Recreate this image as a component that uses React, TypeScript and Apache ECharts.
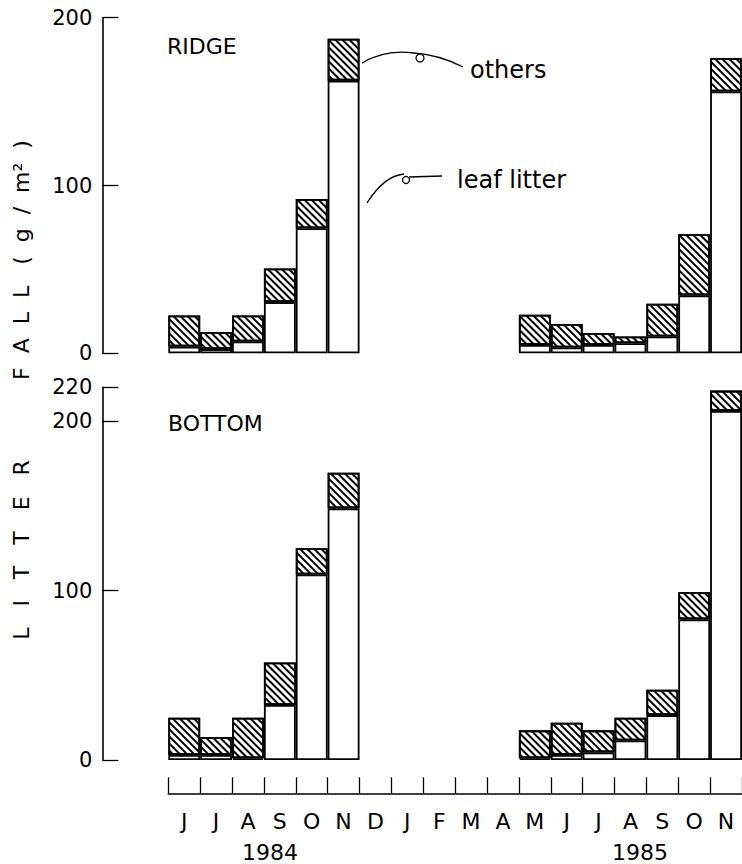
import React, { useEffect, useRef } from "react";
import * as echarts from "echarts";

const months = ["J", "J", "A", "S", "O", "N", "D", "J", "F", "M", "A", "M", "J", "J", "A", "S", "O", "N"];

// RIDGE panel (g/m2)
const ridgeLeaf = [4, 2.5, 7, 30.5, 74.5, 162.5, null, null, null, null, null, 5, 3.5, 5, 6, 10, 34.5, 156];
const ridgeOthers = [18.5, 10, 15.5, 20, 17.5, 25, null, null, null, null, null, 18, 14, 7, 4, 19.5, 36.5, 20];

// BOTTOM panel (g/m2)
const bottomLeaf = [3, 3, 1, 32.5, 109.5, 148.5, null, null, null, null, null, 1, 3, 4.5, 11.5, 26.5, 83, 206];
const bottomOthers = [22, 10.5, 24, 25, 15.5, 21, null, null, null, null, null, 16.5, 19, 13, 13.5, 15, 16, 12];

const ridgeTicks = [0, 100, 200];
const bottomTicks = [0, 100, 200, 220];

const FONT = '"DejaVu Sans", sans-serif';

export default function App() {
  const ref = useRef<HTMLDivElement>(null);

  useEffect(() => {
    if (!ref.current) return;
    const chart = echarts.init(ref.current, null, { renderer: "svg" });

    const gridLeft = 168.3;
    const gridWidth = 32.22 * 18;

    const hatch = {
      symbol: "rect",
      symbolSize: 1,
      color: "#000",
      dashArrayX: [1, 0],
      dashArrayY: [1.6, 2.2],
      rotation: Math.PI / 4,
    };

    const barBase = (xi: number, yi: number, stack: string) => ({
      type: "bar",
      xAxisIndex: xi,
      yAxisIndex: yi,
      stack,
      barWidth: "100%",
      silent: true,
    });

    const yAxisCommon = (min: number, max: number, ticks: number[], grid: number) => ({
      type: "value",
      gridIndex: grid,
      min,
      max,
      offset: 66,
      position: "left",
      splitLine: { show: false },
      axisLine: { show: true, lineStyle: { color: "#000", width: 1.6 } },
      axisTick: {
        show: true,
        inside: true,
        length: 16,
        lineStyle: { color: "#000", width: 1.3 },
        customValues: ticks,
      },
      axisLabel: {
        show: true,
        color: "#000",
        fontSize: 21,
        fontFamily: FONT,
        margin: 10,
        customValues: ticks,
      },
    });

    const option: any = {
      animation: false,
      backgroundColor: "#fff",
      grid: [
        { left: gridLeft, top: 17.7, width: gridWidth, height: 335.6 },
        { left: gridLeft, top: 387.2, width: gridWidth, height: 372.8 },
        { left: gridLeft, top: 700, width: gridWidth, height: 93.3 },
      ],
      xAxis: [
        { type: "category", gridIndex: 0, data: months, show: false },
        { type: "category", gridIndex: 1, data: months, show: false },
        {
          type: "category",
          gridIndex: 2,
          data: months,
          position: "bottom",
          axisLine: { show: true, lineStyle: { color: "#000", width: 1.6 } },
          axisTick: { show: true, inside: true, length: 16, lineStyle: { color: "#000", width: 1.3 } },
          axisLabel: { color: "#000", fontSize: 22, fontFamily: FONT, margin: 17, interval: 0 },
        },
      ],
      yAxis: [
        yAxisCommon(0, 200, ridgeTicks, 0),
        yAxisCommon(0, 220, bottomTicks, 1),
        { type: "value", gridIndex: 2, show: false, min: 0, max: 1 },
      ],
      series: [
        {
          ...barBase(0, 0, "ridge"),
          name: "leaf litter",
          data: ridgeLeaf,
          itemStyle: { color: "#fff", borderColor: "#000", borderWidth: 1.8 },
        },
        {
          ...barBase(0, 0, "ridge"),
          name: "others",
          data: ridgeOthers,
          itemStyle: { color: "#fff", borderColor: "#000", borderWidth: 1.8, decal: hatch },
        },
        {
          ...barBase(1, 1, "bottom"),
          name: "leaf litter",
          data: bottomLeaf,
          itemStyle: { color: "#fff", borderColor: "#000", borderWidth: 1.8 },
        },
        {
          ...barBase(1, 1, "bottom"),
          name: "others",
          data: bottomOthers,
          itemStyle: { color: "#fff", borderColor: "#000", borderWidth: 1.8, decal: hatch },
        },
      ],
      graphic: [
        { type: "text", x: 167, y: 46, style: { text: "RIDGE", fontSize: 22, fontFamily: FONT, fill: "#000", verticalAlign: "middle" } },
        { type: "text", x: 168, y: 423, style: { text: "BOTTOM", fontSize: 22, fontFamily: FONT, fill: "#000", verticalAlign: "middle" } },
        { type: "text", x: 470, y: 70, style: { text: "others", fontSize: 24, fontFamily: FONT, fill: "#000", verticalAlign: "middle" } },
        { type: "text", x: 457, y: 180, style: { text: "leaf litter", fontSize: 24, fontFamily: FONT, fill: "#000", verticalAlign: "middle" } },
        { type: "text", x: 270, y: 852, style: { text: "1984", fontSize: 22, fontFamily: FONT, fill: "#000", align: "center", verticalAlign: "middle" } },
        { type: "text", x: 640, y: 852, style: { text: "1985", fontSize: 22, fontFamily: FONT, fill: "#000", align: "center", verticalAlign: "middle" } },
        {
          type: "text",
          x: 21,
          y: 550,
          rotation: Math.PI / 2,
          style: {
            text: "L   I   T   T   E   R",
            fontSize: 22,
            fontFamily: FONT,
            fill: "#000",
            align: "center",
            verticalAlign: "middle",
          },
        },
        {
          type: "text",
          x: 21,
          y: 260,
          rotation: Math.PI / 2,
          style: {
            text: "F  A  L  L   (  g  /  m²  )",
            fontSize: 22,
            fontFamily: FONT,
            fill: "#000",
            align: "center",
            verticalAlign: "middle",
          },
        },
        // leader for "others"
        {
          type: "bezierCurve",
          shape: { x1: 362, y1: 63, cpx1: 385, cpy1: 49, x2: 414, y2: 53 },
          style: { stroke: "#000", lineWidth: 1.3, fill: "none" },
        },
        {
          type: "bezierCurve",
          shape: { x1: 414, y1: 53, cpx1: 440, cpy1: 55, x2: 463, y2: 67 },
          style: { stroke: "#000", lineWidth: 1.3, fill: "none" },
        },
        { type: "circle", shape: { cx: 420, cy: 58, r: 4 }, style: { stroke: "#000", lineWidth: 1.3, fill: "none" } },
        // leader for "leaf litter"
        {
          type: "bezierCurve",
          shape: { x1: 367, y1: 203, cpx1: 384, cpy1: 176, x2: 404, y2: 174 },
          style: { stroke: "#000", lineWidth: 1.3, fill: "none" },
        },
        { type: "circle", shape: { cx: 406, cy: 180, r: 3.5 }, style: { stroke: "#000", lineWidth: 1.3, fill: "none" } },
        {
          type: "line",
          shape: { x1: 409, y1: 177, x2: 442, y2: 176 },
          style: { stroke: "#000", lineWidth: 1.3 },
        },
      ],
    };

    chart.setOption(option);
    return () => chart.dispose();
  }, []);

  return (
    <div
      ref={ref}
      style={{ position: "absolute", left: 0, top: 0, width: 742, height: 864, background: "#fff" }}
    />
  );
}
